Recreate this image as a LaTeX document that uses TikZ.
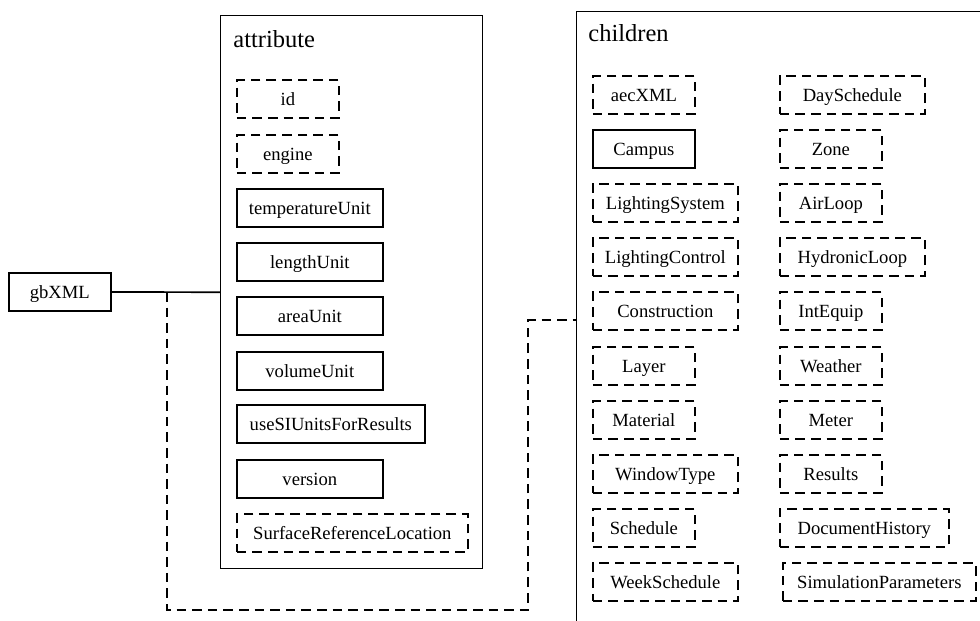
\documentclass[tikz,border=0pt]{standalone}
\usepackage{fontspec}
\setmainfont{Liberation Serif}
\begin{document}
\begin{tikzpicture}[x=0.5pt,y=-0.5pt,
  cont/.style={draw, line width=0.7pt, inner sep=0pt, anchor=north west},
  ttl/.style={anchor=west, inner sep=0pt, text height=8.6pt, text depth=2.6pt, font=\fontsize{12.25pt}{14pt}\selectfont},
  item/.style={draw, line width=0.85pt, anchor=west, inner sep=0pt, minimum height=19pt,
    text height=6.6pt, text depth=0.1pt, font=\fontsize{9.3pt}{11pt}\selectfont},
  dsh/.style={dash pattern=on 4.8pt off 3pt},
  opt/.style={item, dsh},
  conn/.style={line width=0.85pt}
]
\useasboundingbox (0,0) rectangle (980,621);
\clip (0,0) rectangle (980,621);

% root
\node[item, minimum width=51pt] (gb) at (8,292) {gbXML};

% containers
\node[cont, minimum width=131pt, minimum height=276.5pt] (attr) at (220,15) {};
\node[ttl] (attrt) at (233,41) {attribute};
\node[cont, minimum width=212pt, minimum height=308pt] (chil) at (576,11) {};
\node[ttl] (chilt) at (588,35) {children};

% attribute items
\node[opt,  minimum width=51pt]   (a1) at (236,99)  {id};
\node[opt,  minimum width=51pt]   (a2) at (236,154) {engine};
\node[item, minimum width=73pt]   (a3) at (236,208) {temperatureUnit};
\node[item, minimum width=73pt]   (a4) at (236,262) {lengthUnit};
\node[item, minimum width=73pt]   (a5) at (236,316) {areaUnit};
\node[item, minimum width=73pt]   (a6) at (236,371) {volumeUnit};
\node[item, minimum width=94pt]   (a7) at (236,424) {useSIUnitsForResults};
\node[item, minimum width=73pt]   (a8) at (236,479) {version};
\node[opt,  minimum width=115.5pt](a9) at (236,533) {SurfaceReferenceLocation};

% children column 1
\node[opt,  minimum width=51pt]   (c1)  at (592,95)  {aecXML};
\node[item, minimum width=51pt]   (c2)  at (592,149) {Campus};
\node[opt,  minimum width=72.5pt] (c3)  at (592,203) {LightingSystem};
\node[opt,  minimum width=72.5pt] (c4)  at (592,257) {LightingControl};
\node[opt,  minimum width=72.5pt] (c5)  at (592,311) {Construction};
\node[opt,  minimum width=51pt]   (c6)  at (592,366) {Layer};
\node[opt,  minimum width=51pt]   (c7)  at (592,420) {Material};
\node[opt,  minimum width=72.5pt] (c8)  at (592,474) {WindowType};
\node[opt,  minimum width=51pt]   (c9)  at (592,528) {Schedule};
\node[opt,  minimum width=72.5pt] (c10) at (592,582) {WeekSchedule};

% children column 2
\node[opt, minimum width=72.5pt] (d1)  at (779,95)  {DaySchedule};
\node[opt, minimum width=51pt]   (d2)  at (779,149) {Zone};
\node[opt, minimum width=51pt]   (d3)  at (779,203) {AirLoop};
\node[opt, minimum width=72.5pt] (d4)  at (779,257) {HydronicLoop};
\node[opt, minimum width=51pt]   (d5)  at (779,311) {IntEquip};
\node[opt, minimum width=51pt]   (d6)  at (779,366) {Weather};
\node[opt, minimum width=51pt]   (d7)  at (779,420) {Meter};
\node[opt, minimum width=51pt]   (d8)  at (779,474) {Results};
\node[opt, minimum width=84.5pt] (d9)  at (779,528) {DocumentHistory};
\node[opt, minimum width=96.5pt] (d10) at (782,582) {SimulationParameters};

% connectors
\coordinate (j1) at (167,292);
\coordinate (j2) at (167,610);
\coordinate (j3) at (528,610);
\draw[conn] (gb.east) -- (attr.west);
\draw[conn, dsh] (j1) -- (j2) -- (j3) |- (chil.west);
\end{tikzpicture}
\end{document}
